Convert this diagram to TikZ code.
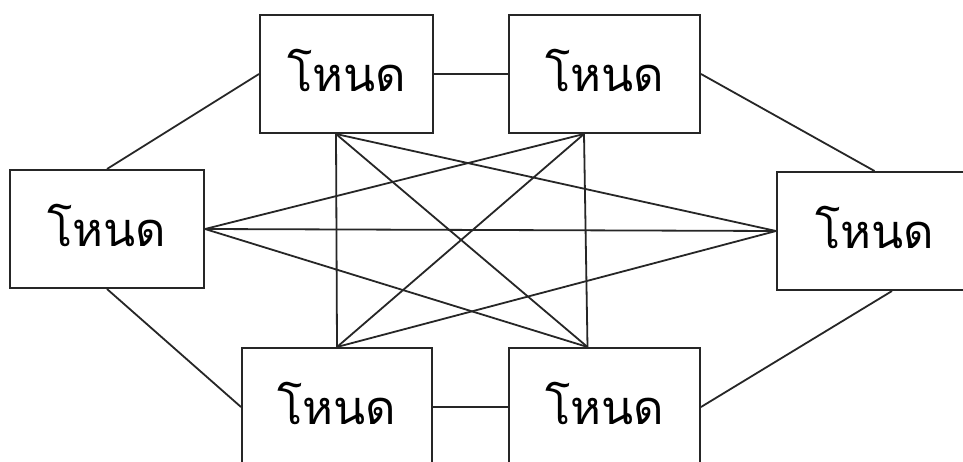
\documentclass[tikz,border=0pt]{standalone}
\usepackage{fontspec}
\newfontfamily\thaifont[Script=Thai]{Loma}
\newcommand\nodelabel{\raisebox{8pt}{โหนด}}
\tikzset{
  nodebox/.style={draw=black!85, line width=2pt, fill=white, inner sep=0pt,
    minimum height=118pt, font=\thaifont\fontsize{47}{52}\selectfont},
  link/.style={draw=black!85, line width=1.8pt}
}
\begin{document}
\begin{tikzpicture}[x=1pt,y=-1pt]
\useasboundingbox (0,0) rectangle (963,462);
\fill[white] (0,0) rectangle (963,462);
\clip (0,0) rectangle (963,462);
% nodes
\node[nodebox, minimum width=194pt] (L)  at (107,229)   {\nodelabel};
\node[nodebox, minimum width=173pt] (TL) at (346.5,74)  {\nodelabel};
\node[nodebox, minimum width=191pt] (TR) at (604.5,74)  {\nodelabel};
\node[nodebox, minimum width=195pt] (R)  at (874.5,231) {\nodelabel};
\node[nodebox, minimum width=190pt] (BL) at (337,407)   {\nodelabel};
\node[nodebox, minimum width=191pt] (BR) at (604.5,407) {\nodelabel};
% connection points
\coordinate (tlb) at ([xshift=-10.5pt]TL.south);
\coordinate (trb) at ([xshift=-20.5pt]TR.south);
\coordinate (blt) at (BL.north);
\coordinate (brt) at ([xshift=-17pt]BR.north);
\coordinate (rb)  at ([xshift=17.5pt]R.south);
% outer ring
\draw[link] (L.north) -- (TL.west);
\draw[link] (TL.east) -- (TR.west);
\draw[link] (TR.east) -- (R.north);
\draw[link] (rb) -- (BR.east);
\draw[link] (BR.west) -- (BL.east);
\draw[link] (BL.west) -- (L.south);
% inner links
\draw[link] (L.east) -- (R.west);
\draw[link] (L.east) -- (trb);
\draw[link] (L.east) -- (brt);
\draw[link] (R.west) -- (tlb);
\draw[link] (R.west) -- (blt);
\draw[link] (tlb) -- (brt);
\draw[link] (trb) -- (blt);
\draw[link] (tlb) -- (blt);
\draw[link] (trb) -- (brt);
\end{tikzpicture}
\end{document}
